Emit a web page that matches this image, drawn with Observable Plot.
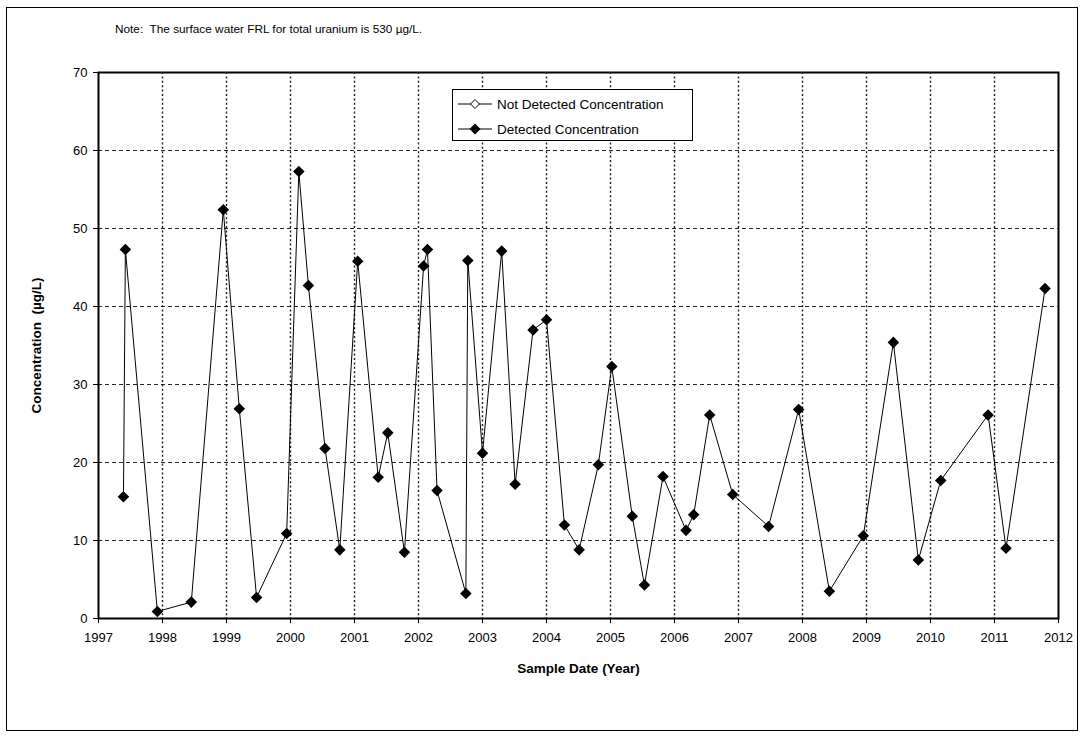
<!DOCTYPE html>
<html><head><meta charset="utf-8">
<script src="https://cdn.jsdelivr.net/npm/d3@7"></script>
<script src="https://cdn.jsdelivr.net/npm/@observablehq/plot@0.6"></script>
<style>
body{margin:0;background:#fff;font-family:"Liberation Sans",Arial,sans-serif;}
#wrap{position:relative;width:1085px;height:738px;overflow:hidden;}
#outer{position:absolute;left:6px;top:7px;width:1072px;height:724px;border:1.5px solid #000;box-sizing:border-box;}
#note{position:absolute;left:115px;top:22px;font-size:11.8px;white-space:pre;color:#000;}
#chart{position:absolute;left:0;top:0;}
#legend{position:absolute;left:452px;top:89px;}
</style></head>
<body>
<div id="wrap">
  <div id="outer"></div>
  <div id="chart"></div>
  <div id="note">Note:  The surface water FRL for total uranium is 530 µg/L.</div>
  <div id="legend"></div>
</div>
<script>
// Sample dates (decimal years) and detected total uranium concentrations (µg/L)
const sampleYear = [1997.39, 1997.42, 1997.92, 1998.45, 1998.95, 1999.20, 1999.47, 1999.94,
  2000.13, 2000.28, 2000.54, 2000.77, 2001.05, 2001.37, 2001.52, 2001.78,
  2002.08, 2002.14, 2002.29, 2002.74, 2002.77, 2003.00, 2003.30, 2003.51,
  2003.79, 2004.00, 2004.28, 2004.51, 2004.81, 2005.02, 2005.34, 2005.53,
  2005.82, 2006.18, 2006.30, 2006.55, 2006.91, 2007.47, 2007.94, 2008.42,
  2008.95, 2009.42, 2009.81, 2010.16, 2010.90, 2011.18, 2011.79];
const detectedConc = [15.6, 47.3, 0.9, 2.1, 52.4, 26.9, 2.7, 10.9,
  57.3, 42.7, 21.8, 8.8, 45.8, 18.1, 23.8, 8.5,
  45.2, 47.3, 16.4, 3.2, 45.9, 21.2, 47.1, 17.2,
  37.0, 38.3, 12.0, 8.8, 19.7, 32.3, 13.1, 4.3,
  18.2, 11.3, 13.3, 26.1, 15.9, 11.8, 26.8, 3.5,
  10.6, 35.4, 7.5, 17.7, 26.1, 9.0, 42.3];
const yTicks = [0, 10, 20, 30, 40, 50, 60, 70];
const xTicks = [1997, 1998, 1999, 2000, 2001, 2002, 2003, 2004, 2005, 2006, 2007, 2008, 2009, 2010, 2011, 2012];
const xTitle = "Sample Date (Year)";
const yTitle = "Concentration  (µg/L)";
const legendLabels = ["Not Detected Concentration", "Detected Concentration"];

const data = sampleYear.map((x, i) => ({x, y: detectedConc[i]}));

const chart = Plot.plot({
  width: 1085, height: 738,
  marginLeft: 98, marginRight: 27, marginTop: 72, marginBottom: 120,
  style: {fontFamily: "'Liberation Sans', Arial, sans-serif", fontSize: "13px", color: "#000", background: "transparent"},
  x: {domain: [1997, 2012]},
  y: {domain: [0, 70]},
  marks: [
    Plot.gridY(yTicks.slice(1, -1), {stroke: "#000", strokeOpacity: 0.85, strokeDasharray: "4,3", strokeWidth: 1}),
    Plot.gridX(xTicks.slice(1, -1), {stroke: "#000", strokeOpacity: 0.9, strokeDasharray: "2,2.4", strokeWidth: 1.4}),
    Plot.frame({stroke: "#000", strokeWidth: 2}),
    Plot.axisX(xTicks, {tickSize: 5, tickPadding: 9, tickFormat: d => String(d), label: null, fontSize: 13}),
    Plot.axisY(yTicks, {tickSize: 5, tickPadding: 6, label: null, fontSize: 13}),
    Plot.text([xTitle], {frameAnchor: "bottom", textAnchor: "middle", dy: 50, fontWeight: "bold", fontSize: 13.5, lineAnchor: "middle"}),
    Plot.text([yTitle], {frameAnchor: "left", textAnchor: "middle", dx: -62, rotate: -90, fontWeight: "bold", fontSize: 13.5, lineAnchor: "middle"}),
    Plot.line(data, {x: "x", y: "y", stroke: "#000", strokeWidth: 1}),
    Plot.dot(data, {x: "x", y: "y", symbol: "diamond2", r: 5.2, fill: "#000", stroke: "none"})
  ]
});
document.getElementById("chart").appendChild(chart);

// Legend (inside plot area)
const lw = 241, lh = 52;
const lsvg = d3.create("svg").attr("width", lw).attr("height", lh)
  .style("font-family", "'Liberation Sans', Arial, sans-serif");
lsvg.append("rect").attr("x", 0.5).attr("y", 0.5).attr("width", lw - 1).attr("height", lh - 1)
  .attr("fill", "#fff").attr("stroke", "#000");
const diamond = s => `M0,${-s}L${s},0L0,${s}L${-s},0Z`;
legendLabels.forEach((t, i) => {
  const cy = 15 + i * 25;
  lsvg.append("line").attr("x1", 6).attr("x2", 40).attr("y1", cy).attr("y2", cy).attr("stroke", "#000");
  lsvg.append("path").attr("d", diamond(i === 0 ? 4.5 : 5.5)).attr("transform", `translate(23,${cy})`)
    .attr("fill", i === 0 ? "#fff" : "#000").attr("stroke", "#000").attr("stroke-width", i === 0 ? 1 : 0);
  lsvg.append("text").attr("x", 45).attr("y", cy).attr("dy", "0.35em").attr("font-size", 13.5).text(t);
});
document.getElementById("legend").appendChild(lsvg.node());
</script>
</body></html>
